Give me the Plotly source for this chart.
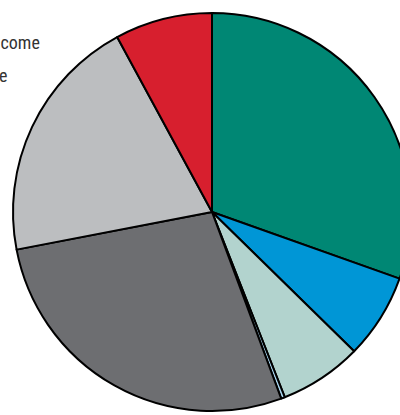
import plotly.graph_objects as go

# Slice shares (percent), clockwise from 12 o'clock
labels = ["Slice A", "Slice B", "Slice C", "Slice D", "Slice E", "Slice F", "Slice G"]
values = [30.4, 6.9, 6.7, 0.3, 27.6, 20.1, 7.9]
colors = ["#008774", "#0096D6", "#B2D3CE", "#A9D6EF", "#6D6E71", "#BCBEC0", "#D71F2E"]

# Legend text at the left edge (clipped by the page edge in the reference)
side_labels = ["Personal income", "Excise revenue"]

W, H = 420, 415
cx, cy, r = 212, 212, 199

fig = go.Figure(go.Pie(
    labels=labels,
    values=values,
    sort=False,
    direction="clockwise",
    rotation=0,
    marker=dict(colors=colors, line=dict(color="#000000", width=2)),
    textinfo="none",
    hoverinfo="label+percent",
    showlegend=False,
    domain=dict(x=[(cx - r) / W, (cx + r) / W],
                y=[(H - cy - r) / H, (H - cy + r) / H]),
))

ann_x = [42, 9]
ann_y = [43, 75]
for txt, xx, yy in zip(side_labels, ann_x, ann_y):
    fig.add_annotation(
        text=txt, xref="paper", yref="paper",
        x=xx / W, y=1 - yy / H, xanchor="right", yanchor="middle",
        showarrow=False,
        font=dict(family="Liberation Sans Narrow, Roboto Condensed, sans-serif", size=18, color="#333333"),
    )

fig.update_layout(
    width=W, height=H,
    margin=dict(l=0, r=0, t=0, b=0),
    paper_bgcolor="white",
    plot_bgcolor="white",
)

fig.write_html(
    "out.html",
    config={"displayModeBar": False},
    post_script="document.body.style.margin='0';document.body.style.overflow='hidden';",
)
